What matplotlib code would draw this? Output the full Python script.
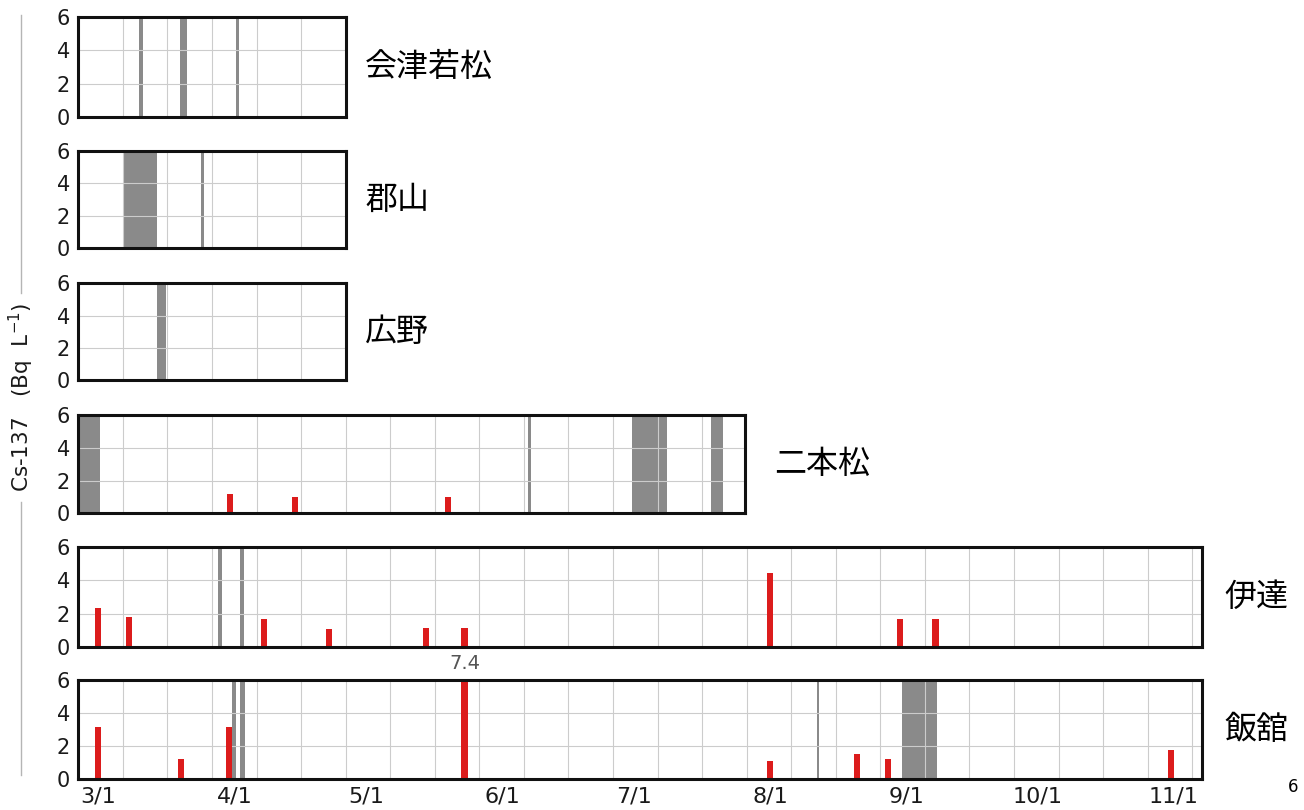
import numpy as np
from matplotlib import pyplot as plt
from matplotlib.lines import Line2D

plt.rcParams['font.family'] = ['DejaVu Sans', 'Noto Sans CJK JP']

# x values are days counted from 3/1
month_days = [0, 31, 61, 92, 122, 153, 184, 214, 245]
month_labels = ['3/1', '4/1', '5/1', '6/1', '7/1', '8/1', '9/1', '10/1', '11/1']

stations = ['会津若松', '郡山', '広野', '二本松', '伊達', '飯舘']

# grey periods (start day, end day)
aizu_gray = [(9.3, 10.2), (18.5, 20.3), (31.3, 32.05)]
koriyama_gray = [(5.9, 13.3), (23.4, 24.1)]
hirono_gray = [(13.45, 15.35)]
nihon_gray = [(-4.6, 0.4), (97.8, 98.5), (121.6, 129.5), (139.5, 142.4)]
date_gray = [(27.3, 28.2), (32.3, 33.2)]
iitate_gray = [(30.4, 31.3), (32.3, 33.3), (163.6, 164.2), (183.1, 191.0)]

# Cs-137 detections
nihon_days = [29.9, 44.8, 79.7]
nihon_vals = [1.15, 1.0, 1.0]
date_days = [0, 7.0, 37.8, 52.6, 74.6, 83.4, 153.0, 182.6, 190.7]
date_vals = [2.35, 1.8, 1.7, 1.05, 1.1, 1.15, 4.45, 1.65, 1.65]
iitate_days = [0, 18.8, 29.8, 83.4, 153.0, 172.8, 179.8, 244.3]
iitate_vals = [3.15, 1.25, 3.15, 7.4, 1.1, 1.55, 1.2, 1.8]

grays = [aizu_gray, koriyama_gray, hirono_gray, nihon_gray, date_gray, iitate_gray]
reds = [([], []), ([], []), ([], []),
        (nihon_days, nihon_vals), (date_days, date_vals), (iitate_days, iitate_vals)]

# layout in pixels
W, H = 1304, 810
XMIN = -4.56
PX_PER_DAY = 4.39
LEFT = 78.3
tops = [17.3, 150.7, 283.3, 415.0, 547.3, 680.0]
bottoms = [116.7, 248.3, 380.0, 513.3, 646.7, 779.3]
xmaxs = [56.35, 56.35, 56.35, 147.3, 251.4, 251.4]
label_gap = [14, 14, 14, 21, 16, 16]

grid_days = XMIN + 10.15 * np.arange(1, 26)

fig = plt.figure(figsize=(W / 100, H / 100), dpi=100)

for i, name in enumerate(stations):
    width = (xmaxs[i] - XMIN) * PX_PER_DAY
    ax = fig.add_axes([LEFT / W, 1 - bottoms[i] / H, width / W, (bottoms[i] - tops[i]) / H])
    ax.set_xlim(XMIN, xmaxs[i])
    ax.set_ylim(0, 6)

    for s, e in grays[i]:
        ax.axvspan(s, e, color='#8a8a8a', lw=0, zorder=0.2)

    days, vals = reds[i]
    if days:
        ax.bar(days, vals, width=1.4, color='#dc1c1c', zorder=2)

    ax.set_yticks([0, 2, 4, 6])
    ax.set_xticks([d for d in grid_days if d < xmaxs[i]], minor=True)
    ax.set_axisbelow(True)
    ax.grid(which='minor', axis='x', color='#cccccc', lw=0.8)
    ax.grid(which='major', axis='y', color='#cccccc', lw=0.8)
    ax.tick_params(which='both', length=0)
    ax.tick_params(axis='y', labelsize=15, pad=6, labelcolor='#1a1a1a')
    if i == len(stations) - 1:
        ax.set_xticks(month_days)
        ax.set_xticklabels(month_labels)
        ax.tick_params(axis='x', labelsize=16, pad=5, labelcolor='#1a1a1a')
    else:
        ax.set_xticks([])
    for sp in ax.spines.values():
        sp.set_linewidth(2.2)
        sp.set_color('#111111')
        sp.set_zorder(3)

    ax.annotate(name, xy=(1, 0.5), xycoords='axes fraction',
                xytext=(label_gap[i], 0), textcoords='offset points',
                ha='left', va='center', fontsize=23, family='Noto Sans CJK JP')

    if i == len(stations) - 1:
        # clipped value written above the frame
        k = int(np.argmax(vals))
        ax.annotate('%.1f' % vals[k], xy=(days[k], 6), xytext=(0, 12),
                    textcoords='offset points', ha='center', va='center',
                    fontsize=14, color='#555555', annotation_clip=False)

fig.text(21 / W, 1 - 397.5 / H, r'Cs-137   (Bq  L$^{\mathregular{-1}}$)', rotation=90,
         ha='center', va='center', fontsize=15.5, color='#1a1a1a')
fig.add_artist(Line2D([21 / W, 21 / W], [1 - 15 / H, 1 - 293 / H], color='#b5b5b5', lw=1))
fig.add_artist(Line2D([21 / W, 21 / W], [1 - 502 / H, 1 - 775 / H], color='#b5b5b5', lw=1))
fig.text(1293 / W, 1 - 787 / H, '6', ha='center', va='center', fontsize=12)

fig.savefig('out.png', dpi=100)
